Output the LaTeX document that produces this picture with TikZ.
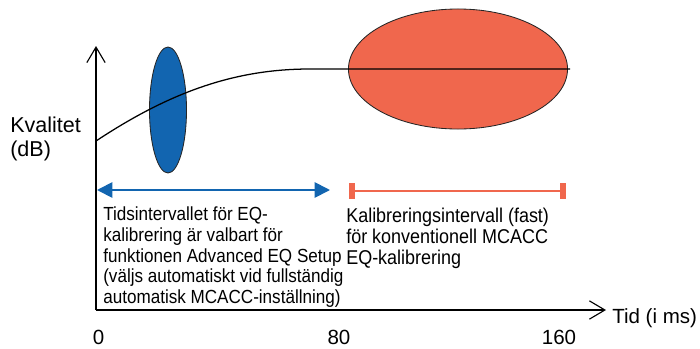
\documentclass[tikz,border=0pt]{standalone}
\usepackage{fontspec}
\setmainfont{Liberation Sans}
\newfontfamily\condfont[FakeStretch=0.9]{Liberation Sans}
\usetikzlibrary{arrows.meta,positioning,shapes.geometric}
\definecolor{eqblue}{RGB}{18,101,176}
\definecolor{mcred}{RGB}{240,103,77}

\begin{document}
\begin{tikzpicture}[x=0.025cm,y=-0.025cm,
    lbl/.style={align=left, inner sep=0pt},
    axis/.style={line width=0.8pt, -{Straight Barb[length=11pt,width=13pt]}},
    blob/.style={ellipse, draw=black!85, line width=0.6pt, inner sep=0pt},
    barend/.style={fill=mcred, minimum width=0.15cm, minimum height=0.4cm, inner sep=0pt}]
            \useasboundingbox (0,0) rectangle (700,349);
            % axes
            \coordinate (o) at (96,310);
            \coordinate (ytop) at (96,46);
            \coordinate (xend) at (606,310);
            \draw[axis] (o) -- (ytop);
            \draw[axis] (o) -- (xend);

            % the two intervals
            \node[blob, fill=eqblue, minimum width=0.925cm, minimum height=3.15cm] (eq) at (168,110) {};
            \node[blob, fill=mcred, minimum width=5.475cm, minimum height=3cm] (mc) at (458,69) {};

            % quality curve
            \coordinate (c0) at (96,141);
            \coordinate (c1) at (310,69);
            \coordinate (c2) at (570,69);
            \draw[line width=0.9pt] (c0) .. controls (170,92) and (235,69) .. (c1) -- (c2);

            % arrow and bar
            \coordinate (a0) at (97,190);
            \coordinate (a1) at (330,190);
            \draw[eqblue, line width=1.3pt, {Triangle[length=11pt,width=11pt]}-{Triangle[length=11pt,width=11pt]}] (a0) -- (a1);
            \node[barend] (b0) at (352,191) {};
            \node[barend] (b1) at (563,191) {};
            \draw[mcred, line width=1.3pt] (b0) -- (b1);

            % texts
            \node[lbl, anchor=north west, font=\fontsize{15.3}{16.5}\selectfont] (kv) at (10,117) {Kvalitet\\(dB)};
            \node[lbl, anchor=north west, font=\condfont\fontsize{13.5}{14.75}\selectfont] (t1) at (103,206.5) {Tidsintervallet för EQ-\\kalibrering är valbart för\\funktionen Advanced EQ Setup\\(väljs automatiskt vid fullständig\\automatisk MCACC-inställning)};
            \node[lbl, anchor=north west, font=\condfont\fontsize{14.2}{14.9}\selectfont] (t2) at (346,207.5) {Kalibreringsintervall (fast)\\för konventionell MCACC\\EQ-kalibrering};
            \node[lbl, anchor=base west, font=\fontsize{14.6}{16}\selectfont] (tid) at (612,323.3) {Tid (i ms)};
            \node[lbl, anchor=base, font=\fontsize{14.6}{16}\selectfont] (n0) at (98.5,344.5) {0};
            \node[lbl, anchor=base, font=\fontsize{14.6}{16}\selectfont] (n80) at (339,344.5) {80};
            \node[lbl, anchor=base, font=\fontsize{14.6}{16}\selectfont] (n160) at (559,344.5) {160};
        \end{tikzpicture}
\end{document}
